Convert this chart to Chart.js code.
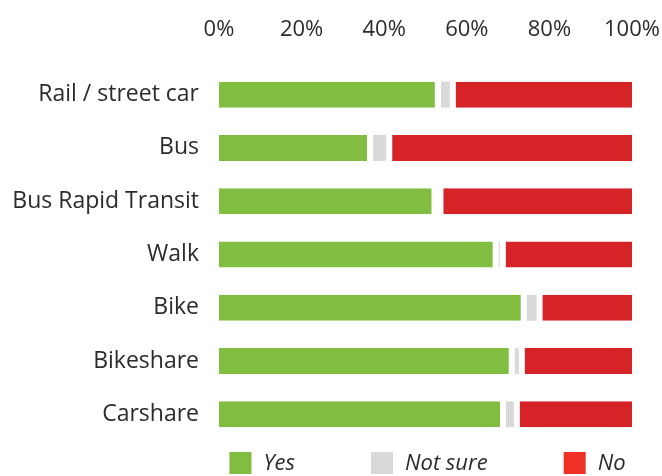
<!DOCTYPE html>
<html>
<head>
<meta charset="utf-8">
<script src="https://cdn.jsdelivr.net/npm/chart.js@4"></script>
<style>
	html, body { margin: 0; padding: 0; background: #fff; }
	#wrap { width: 662px; height: 476px; position: relative; }
</style>
</head>
<body>
<div id="wrap"><canvas id="chart"></canvas></div>
<script>
const modes = ["Rail / street car", "Bus", "Bus Rapid Transit", "Walk", "Bike", "Bikeshare", "Carshare"]
const yes = [53.7, 37.3, 52.9, 67.7, 74.5, 71.6, 69.5]
const notSure = [2.2, 3.2, 0, 0.3, 2.4, 1.0, 1.9]
const no = [44.1, 59.5, 47.1, 32.0, 23.1, 27.4, 28.6]
const seriesNames = ["Yes", "Not sure", "No"]

const textColor = '#2b2b2b'

// legend drawn by hand: the reference spaces items wider than Chart.js padding allows
const boxLegend = {
	id: 'boxLegend',
	afterDraw(chart) {
		const ctx = chart.ctx
		const area = chart.chartArea
		ctx.save()
		ctx.font = 'italic 22px "Open Sans"'
		const items = chart.data.datasets.map(ds => ({
			text: ds.label,
			color: ds.legendColor,
			w: 22 + 12 + ctx.measureText(ds.label).width,
		}))
		const gap = 76
		const total = items.reduce((s, it) => s + it.w, 0) + gap * (items.length - 1)
		let x = (area.left + area.right) / 2 - total / 2 + 2
		const top = area.bottom + 11
		ctx.textBaseline = 'middle'
		ctx.textAlign = 'left'
		for (const it of items) {
			ctx.fillStyle = it.color
			ctx.fillRect(x, top, 22, 22)
			ctx.fillStyle = textColor
			ctx.fillText(it.text, x + 34, top + 12)
			x += it.w + gap
		}
		ctx.restore()
	}
}

new Chart(document.getElementById("chart"), {
	type: 'bar',
	data: {
		labels: modes,
		datasets: [{
			label: seriesNames[0],
			data: yes,
			backgroundColor: '#80bd41',
			legendColor: '#80bd41',
			borderColor: '#ffffff',
			borderWidth: { right: 6 },
			borderSkipped: false,
		}, {
			label: seriesNames[1],
			data: notSure,
			backgroundColor: '#d9d9d9',
			legendColor: '#d9d9d9',
			borderWidth: 0,
		}, {
			label: seriesNames[2],
			data: no,
			backgroundColor: '#d52328',
			legendColor: '#ee3124',
			borderColor: '#ffffff',
			borderWidth: { left: 6 },
			borderSkipped: false,
		}],
	},
	options: {
		indexAxis: 'y',
		animation: false,
		responsive: true,
		maintainAspectRatio: false,
		categoryPercentage: 1,
		barPercentage: 0.4875,
		layout: {
			padding: { left: 0, right: 0, top: 0, bottom: 35 },
		},
		plugins: {
			legend: { display: false },
			tooltip: { enabled: false },
		},
		scales: {
			x: {
				position: 'top',
				stacked: true,
				min: 0,
				max: 100,
				grid: { display: false, drawTicks: false },
				border: { display: false },
				ticks: {
					stepSize: 20,
					padding: 25,
					color: textColor,
					font: { family: 'Open Sans', size: 22 },
					callback: v => v + '%',
				},
				afterFit: scale => {
					scale.height = 68
					scale.paddingRight = 30
				},
			},
			y: {
				stacked: true,
				grid: { display: false, drawTicks: false },
				border: { display: false },
				ticks: {
					padding: 20,
					color: textColor,
					font: { family: 'Open Sans', size: 23 },
				},
				afterFit: scale => { scale.width = 219 },
			},
		},
	},
	plugins: [boxLegend],
});
</script>
</body>
</html>
